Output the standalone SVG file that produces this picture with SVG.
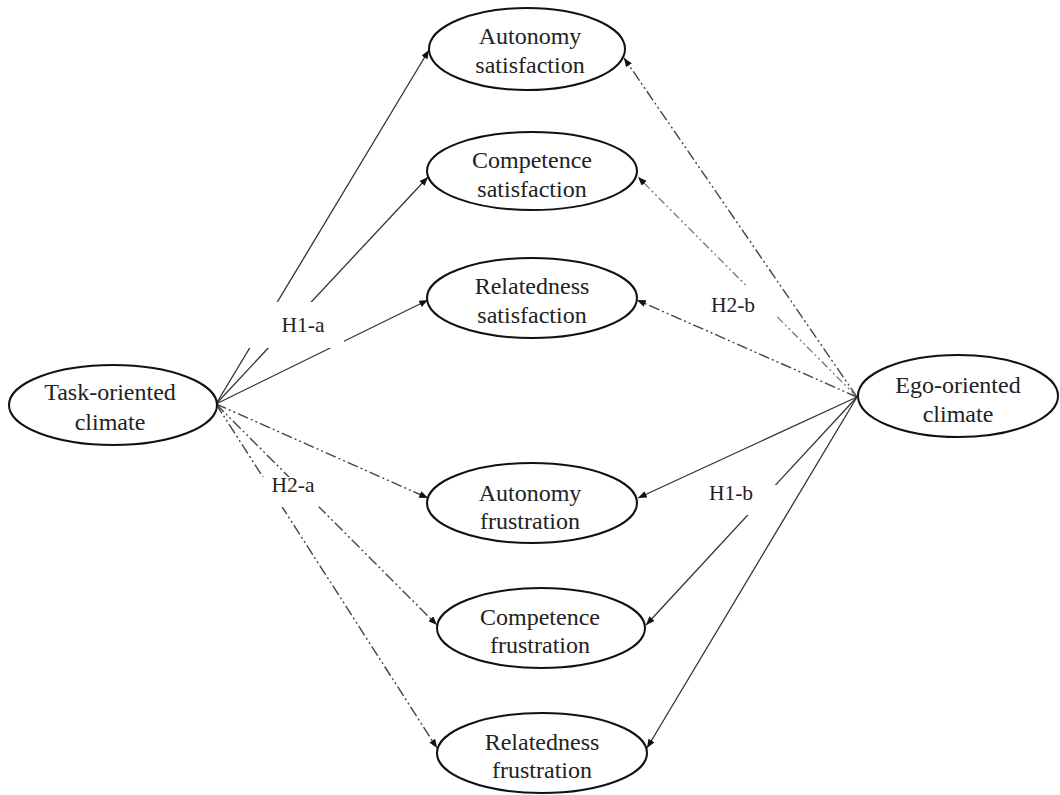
<svg xmlns="http://www.w3.org/2000/svg" width="1060" height="795" viewBox="0 0 1060 795">
<style>
.node ellipse{fill:#fff;stroke:#111;stroke-width:2}
.node text{font-family:"Liberation Serif","Times New Roman",serif;font-size:24px;fill:#222;text-anchor:middle}
.lbl{font-family:"Liberation Serif","Times New Roman",serif;font-size:21.5px;fill:#222;text-anchor:middle}
.solid{stroke:#333;stroke-width:1.3;fill:none}
.dd{stroke:#444;stroke-width:1.4;fill:none;stroke-dasharray:11 3 2 3 2 3}
.dl{stroke:#777;stroke-width:1.3;fill:none;stroke-dasharray:8 3 2 3 2 3}
.gap{fill:#fff;stroke:none}
</style>
<defs>
<marker id="ah" viewBox="0 0 10 8" refX="10" refY="4" markerWidth="9" markerHeight="7" markerUnits="userSpaceOnUse" orient="auto">
<path d="M0,0 L10,4 L0,8 z" fill="#111"/>
</marker>
</defs>
<rect width="1060" height="795" fill="#fff"/>
<g id="connectors">
<line class="solid" x1="216" y1="404" x2="429" y2="50" marker-end="url(#ah)"/>
<line class="solid" x1="216" y1="404" x2="428" y2="177" marker-end="url(#ah)"/>
<line class="solid" x1="216" y1="404" x2="428" y2="300" marker-end="url(#ah)"/>
<line class="dd" x1="216" y1="404" x2="428" y2="498" marker-end="url(#ah)"/>
<line class="dd" x1="216" y1="404" x2="437" y2="625" marker-end="url(#ah)"/>
<line class="dd" x1="216" y1="404" x2="437" y2="748" marker-end="url(#ah)"/>
<line class="dd" x1="857" y1="397" x2="624" y2="58" marker-end="url(#ah)"/>
<line class="dl" x1="857" y1="397" x2="638" y2="177" marker-end="url(#ah)"/>
<line class="dd" x1="857" y1="397" x2="637" y2="300" marker-end="url(#ah)"/>
<line class="solid" x1="857" y1="397" x2="638" y2="498" marker-end="url(#ah)"/>
<line class="solid" x1="857" y1="397" x2="646" y2="625" marker-end="url(#ah)"/>
<line class="solid" x1="857" y1="397" x2="647" y2="748" marker-end="url(#ah)"/>
</g>
<g id="labels">
<rect class="gap" x="245" y="302" width="99" height="46"/>
<text class="lbl" x="303" y="332">H1-a</text>
<rect class="gap" x="698" y="285" width="80" height="30"/>
<text class="lbl" x="733" y="312">H2-b</text>
<rect class="gap" x="255" y="477" width="64" height="30"/>
<text class="lbl" x="293" y="492">H2-a</text>
<rect class="gap" x="700" y="485" width="78" height="30"/>
<text class="lbl" x="731" y="500">H1-b</text>
</g>
<g id="task" class="node"><ellipse cx="113" cy="405" rx="104" ry="40"/><text x="110" y="400">Task-oriented</text><text x="110" y="430">climate</text></g>
<g id="ego" class="node"><ellipse cx="958" cy="396" rx="100" ry="41"/><text x="958" y="393">Ego-oriented</text><text x="958" y="422">climate</text></g>
<g id="autonomy-satisfaction" class="node"><ellipse cx="527" cy="49" rx="98" ry="41"/><text x="530" y="44">Autonomy</text><text x="530" y="73">satisfaction</text></g>
<g id="competence-satisfaction" class="node"><ellipse cx="532" cy="171" rx="105" ry="39"/><text x="532" y="168">Competence</text><text x="532" y="197">satisfaction</text></g>
<g id="relatedness-satisfaction" class="node"><ellipse cx="532" cy="298" rx="105" ry="40"/><text x="532" y="294">Relatedness</text><text x="532" y="323">satisfaction</text></g>
<g id="autonomy-frustration" class="node"><ellipse cx="532" cy="503" rx="105" ry="40"/><text x="530" y="501">Autonomy</text><text x="530" y="529">frustration</text></g>
<g id="competence-frustration" class="node"><ellipse cx="541" cy="628" rx="104" ry="40"/><text x="540" y="625">Competence</text><text x="540" y="653">frustration</text></g>
<g id="relatedness-frustration" class="node"><ellipse cx="542" cy="753" rx="105" ry="40"/><text x="542" y="750">Relatedness</text><text x="542" y="778">frustration</text></g>
</svg>
